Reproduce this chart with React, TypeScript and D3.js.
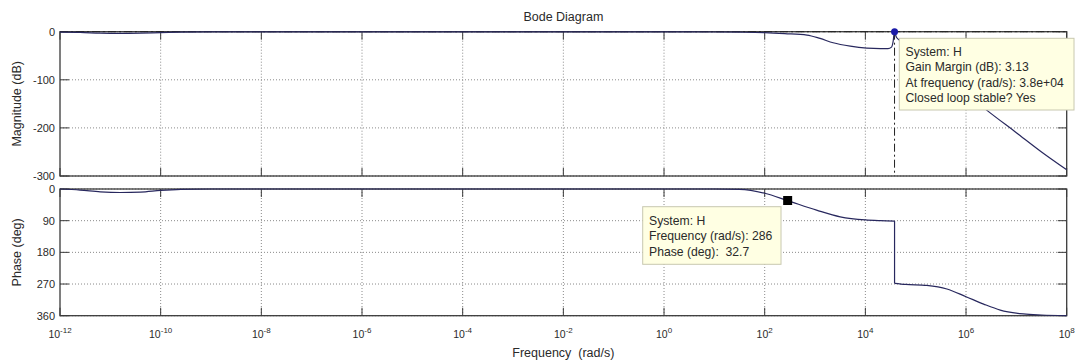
import React from "react";
import * as d3 from "d3";

// log10 of frequency (rad/s) and magnitude (dB)
const magLogW = [-12, -11.6, -11.2, -10.8, -10.4, -10, -9.6, -9, -6, -3, 0, 1, 1.5, 2, 2.4, 2.84, 3.1, 3.36, 3.7, 4.03, 4.3, 4.45, 4.52, 4.555, 4.575, 4.62, 4.75, 5, 5.5, 6, 6.41, 7, 7.5, 8];
const magDb = [-1, -1.5, -3, -3.5, -3, -2, -1, -0.5, -0.5, -0.5, -0.5, -0.6, -1, -2, -4, -7, -14, -23, -30, -34, -35, -35, -32, -18, -1, -12, -22, -42, -82, -128, -163, -210, -250, -287];

// log10 of frequency (rad/s) and phase (deg), low-frequency branch then high-frequency branch
const phaseLogW1 = [-12, -11.6, -11.2, -10.8, -10.4, -10, -9.6, -9, -6, -3, 0, 1, 1.5, 2, 2.456, 3.03, 3.5, 4, 4.3, 4.58];
const phaseDeg1 = [0, 3, 8, 10, 9, 4, 1, 0, 0, 0, 0, 0, 1, 12, 33, 60, 79, 88, 90, 91];
const phaseLogW2 = [4.58, 4.8, 5.22, 5.62, 6, 6.35, 6.68, 7.14, 7.5, 8];
const phaseDeg2 = [268, 271, 274, 284, 306, 327, 344, 355, 358, 360];

const xTickExps = [-12, -10, -8, -6, -4, -2, 0, 2, 4, 6, 8];
const magTicks = [0, -100, -200, -300];
const phaseTicks = [0, 90, 180, 270, 360];

const gmFreq = 3.8e4;
const gmDb = 0;
const markFreq = 286;
const markPhase = 32.7;

const magTip = ["System: H", "Gain Margin (dB): 3.13", "At frequency (rad/s): 3.8e+04", "Closed loop stable? Yes"];
const phaseTip = ["System: H", "Frequency (rad/s): 286", "Phase (deg):  32.7"];

const W = 1077;
const H = 361;
const X0 = 60;
const X1 = 1066.7;
const MAG_TOP = 31.7;
const MAG_BOT = 176;
const PH_TOP = 189;
const PH_BOT = 315.7;

const FONT = "'Liberation Sans', Arial, sans-serif";
const AXIS = "#3a3a3a";
const GRID = "#8a8a8a";
const CURVE = "#28285e";
const TXT = "#2a2a2a";

export default function App() {
  const x = d3.scaleLog().domain([1e-12, 1e8]).range([X0, X1]);
  const yMag = d3.scaleLinear().domain([-300, 0]).range([MAG_BOT, MAG_TOP]);
  const yPh = d3.scaleLinear().domain([0, 360]).range([PH_TOP, PH_BOT]);

  const magPts: [number, number][] = magLogW.map((e, i) => [x(Math.pow(10, e)), yMag(magDb[i])]);
  const ph1: [number, number][] = phaseLogW1.map((e, i) => [x(Math.pow(10, e)), yPh(phaseDeg1[i])]);
  const ph2: [number, number][] = phaseLogW2.map((e, i) => [x(Math.pow(10, e)), yPh(phaseDeg2[i])]);
  const line = d3.line<[number, number]>().x((d) => d[0]).y((d) => d[1]).curve(d3.curveMonotoneX);

  const tickLen = 8;

  const panel = (top: number, bot: number, yTicks: number[], yS: (v: number) => number) => (
    <g>
      {xTickExps.slice(1, -1).map((e) => (
        <line key={"gx" + e} x1={x(Math.pow(10, e))} x2={x(Math.pow(10, e))} y1={top} y2={bot} stroke={GRID} strokeWidth={1} strokeDasharray="1,2" />
      ))}
      {yTicks.map((v) => (
        <line key={"gy" + v} x1={X0} x2={X1} y1={yS(v)} y2={yS(v)} stroke={GRID} strokeWidth={1} strokeDasharray="1,2" />
      ))}
      {xTickExps.map((e) => (
        <g key={"tx" + e}>
          <line x1={x(Math.pow(10, e))} x2={x(Math.pow(10, e))} y1={top} y2={top + tickLen} stroke={AXIS} strokeWidth={1} />
          <line x1={x(Math.pow(10, e))} x2={x(Math.pow(10, e))} y1={bot} y2={bot - tickLen} stroke={AXIS} strokeWidth={1} />
        </g>
      ))}
      {yTicks.map((v) => (
        <g key={"ty" + v}>
          <line x1={X0} x2={X0 + 9} y1={yS(v)} y2={yS(v)} stroke={AXIS} strokeWidth={1} />
          <line x1={X1} x2={X1 - 9} y1={yS(v)} y2={yS(v)} stroke={AXIS} strokeWidth={1} />
          <text x={55} y={yS(v) + 4} textAnchor="end" fontSize={11} fill={TXT} fontFamily={FONT}>{v}</text>
        </g>
      ))}
      <rect x={X0} y={top} width={X1 - X0} height={bot - top} fill="none" stroke={AXIS} strokeWidth={1.3} />
    </g>
  );

  const tip = (lines: string[], bx: number, by: number, bw: number, bh: number, tx: number, ty0: number, dy: number) => (
    <g>
      <rect x={bx} y={by} width={bw} height={bh} fill="#ffffe3" stroke="#c8c8b0" strokeWidth={1} />
      {lines.map((s, i) => (
        <text key={i} x={tx} y={ty0 + i * dy} fontSize={12.2} fill={TXT} fontFamily={FONT} style={{ whiteSpace: "pre" }}>{s}</text>
      ))}
    </g>
  );

  return (
    <svg width={W} height={H} style={{ position: "absolute", left: 0, top: 0, background: "#fff" }}>
      <rect x={0} y={0} width={W} height={H} fill="#fff" />
      <text x={(X0 + X1) / 2} y={21} textAnchor="middle" fontSize={12.5} fill={TXT} fontFamily={FONT}>Bode Diagram</text>

      {panel(MAG_TOP, MAG_BOT, magTicks, yMag)}
      {panel(PH_TOP, PH_BOT, phaseTicks, yPh)}

      <line x1={X0} x2={X1} y1={yMag(0)} y2={yMag(0)} stroke="#222" strokeWidth={1} strokeDasharray="8,3,2,3" />
      <line x1={x(gmFreq)} x2={x(gmFreq)} y1={yMag(gmDb)} y2={MAG_BOT} stroke="#222" strokeWidth={1} strokeDasharray="8,3,2,3" />

      <path d={line(magPts) || ""} fill="none" stroke={CURVE} strokeWidth={1.2} />
      <path d={line(ph1) || ""} fill="none" stroke={CURVE} strokeWidth={1.2} />
      <line x1={ph1[ph1.length - 1][0]} y1={ph1[ph1.length - 1][1]} x2={ph2[0][0]} y2={ph2[0][1]} stroke={CURVE} strokeWidth={1.2} />
      <path d={line(ph2) || ""} fill="none" stroke={CURVE} strokeWidth={1.2} />

      <circle cx={x(gmFreq)} cy={yMag(gmDb)} r={3.5} fill="#1a1aa8" />
      <rect x={x(markFreq) - 4.5} y={yPh(markPhase) - 4.5} width={9} height={9} fill="#000" />

      {tip(magTip, 899.3, 38.3, 174.7, 71.7, 905.5, 55.5, 15.5)}
      {tip(phaseTip, 642.7, 206.7, 138.3, 57.6, 649, 225, 15.3)}

      {xTickExps.map((e) => (
        <text key={"xl" + e} x={x(Math.pow(10, e))} y={338} textAnchor="middle" fontSize={10.5} fill={TXT} fontFamily={FONT}>
          10<tspan dy={-5} fontSize={8}>{e}</tspan>
        </text>
      ))}
      <text x={(X0 + X1) / 2} y={357} textAnchor="middle" fontSize={12.5} fill={TXT} fontFamily={FONT} style={{ whiteSpace: "pre" }}>Frequency  (rad/s)</text>

      <text transform={`translate(21,${(MAG_TOP + MAG_BOT) / 2}) rotate(-90)`} textAnchor="middle" fontSize={12.5} fill={TXT} fontFamily={FONT}>Magnitude (dB)</text>
      <text transform={`translate(21,${(PH_TOP + PH_BOT) / 2}) rotate(-90)`} textAnchor="middle" fontSize={12.5} fill={TXT} fontFamily={FONT}>Phase (deg)</text>
    </svg>
  );
}
